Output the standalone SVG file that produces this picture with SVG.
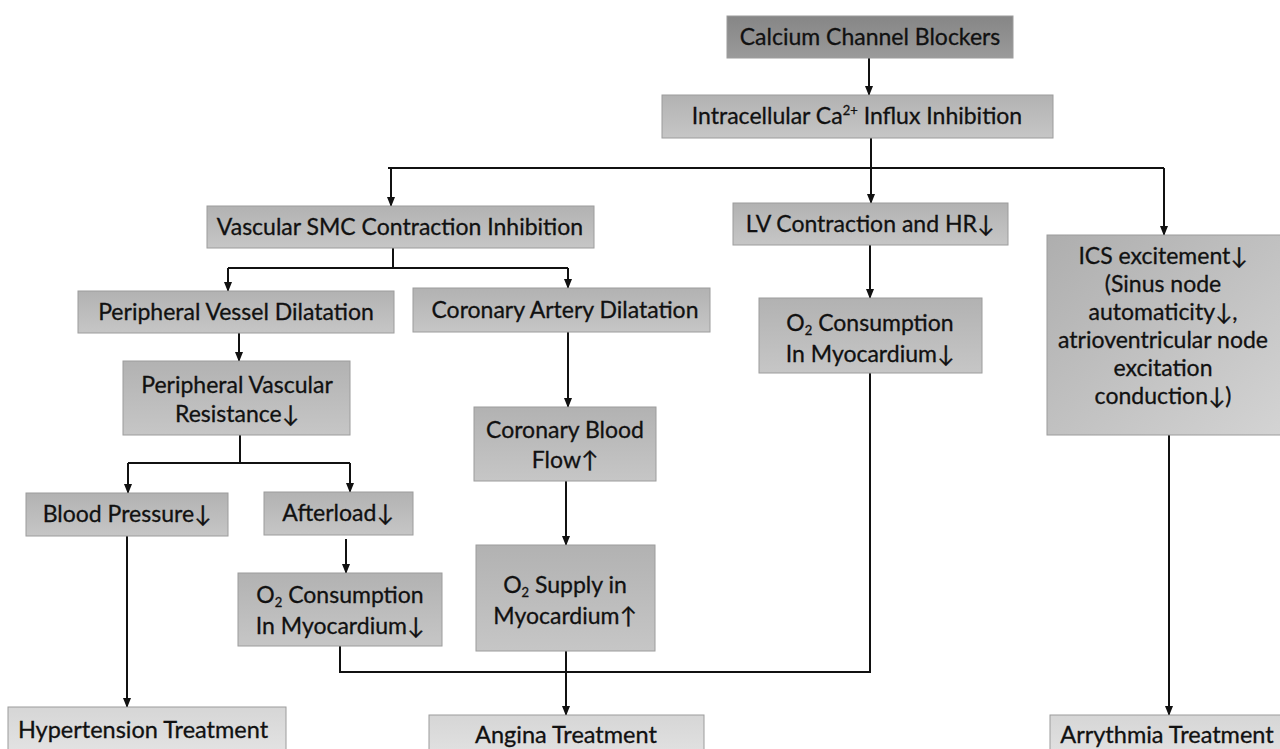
<svg xmlns="http://www.w3.org/2000/svg" width="1280" height="749" viewBox="0 0 1280 749">
<defs>
<linearGradient id="gMid" x1="0" y1="0" x2="0" y2="1"><stop offset="0" stop-color="#b2b2b2"/><stop offset="1" stop-color="#c6c6c6"/></linearGradient>
<linearGradient id="gTop" x1="0" y1="0" x2="0" y2="1"><stop offset="0" stop-color="#868686"/><stop offset="1" stop-color="#9a9a9a"/></linearGradient>
<linearGradient id="gLight" x1="0" y1="0" x2="0" y2="1"><stop offset="0" stop-color="#d6d6d6"/><stop offset="1" stop-color="#e4e4e4"/></linearGradient>
<linearGradient id="gIcs" x1="0" y1="0" x2="1" y2="1"><stop offset="0" stop-color="#aeaeae"/><stop offset="1" stop-color="#d4d4d4"/></linearGradient>
<marker id="ah" markerWidth="10" markerHeight="10" refX="9" refY="5" orient="auto" markerUnits="userSpaceOnUse"><path d="M0,1 L10,5 L0,9 Z" fill="#111"/></marker>
</defs>
<style>
.box{stroke:#9c9c9c;stroke-width:1}
.t{font-family:Lato,"Open Sans","Liberation Sans",sans-serif;font-size:23px;fill:#111;stroke:#111;stroke-width:0.3;text-anchor:middle}
.s{font-size:13px}
.b{font-size:23.5px}
.c{fill:none;stroke:#111;stroke-width:2}
.a{fill:none;stroke:#111;stroke-width:2;marker-end:url(#ah)}
</style>
<rect width="1280" height="749" fill="#fff"/>
<g id="connectors">
<path class="a" d="M869,58 V95"/>
<path class="c" d="M871,138 V168 M388,168 H1164"/>
<path class="a" d="M391,168 V206"/>
<path class="a" d="M871,168 V203"/>
<path class="a" d="M1164,168 V235"/>
<path class="c" d="M393,248 V268 M228,268 H568"/>
<path class="a" d="M228,268 V291"/>
<path class="a" d="M568,268 V288"/>
<path class="a" d="M239,333 V361"/>
<path class="c" d="M240,435 V463 M128,463 H350"/>
<path class="a" d="M128,463 V493"/>
<path class="a" d="M350,463 V492"/>
<path class="a" d="M346,539 V573"/>
<path class="a" d="M568,332 V407"/>
<path class="a" d="M566,481 V545"/>
<path class="a" d="M870,245 V298"/>
<path class="c" d="M340,646 V672 H870 V373"/>
<path class="a" d="M566,651 V715"/>
<path class="a" d="M127,536 V707"/>
<path class="a" d="M1169,435 V715"/>
</g>
<g id="ccb"><rect class="box" x="727" y="16" width="286" height="42" fill="url(#gTop)"/><text class="t" x="870" y="45">Calcium Channel Blockers</text></g>
<g id="influx"><rect class="box" x="662" y="95" width="391" height="43" fill="url(#gMid)"/><text class="t" x="857" y="124">Intracellular Ca<tspan class="s" dy="-9">2+</tspan><tspan dy="9"> Influx Inhibition</tspan></text></g>
<g id="vsmc"><rect class="box" x="207" y="206" width="387" height="42" fill="url(#gMid)"/><text class="t" x="400" y="235">Vascular SMC Contraction Inhibition</text></g>
<g id="lv"><rect class="box" x="733" y="203" width="275" height="42" fill="url(#gMid)"/><text class="t" x="870" y="232">LV Contraction and HR↓</text></g>
<g id="ics"><rect class="box" x="1047" y="235" width="240" height="200" fill="url(#gIcs)"/>
<text class="t" x="1163"><tspan x="1163" y="264">ICS excitement↓</tspan><tspan x="1163" y="292">(Sinus node</tspan><tspan x="1163" y="320">automaticity↓,</tspan><tspan x="1163" y="348">atrioventricular node</tspan><tspan x="1163" y="376">excitation</tspan><tspan x="1163" y="404">conduction↓)</tspan></text></g>
<g id="pvd"><rect class="box" x="78" y="291" width="316" height="42" fill="url(#gMid)"/><text class="t" x="236" y="320">Peripheral Vessel Dilatation</text></g>
<g id="cad"><rect class="box" x="413" y="288" width="297" height="44" fill="url(#gMid)"/><text class="t" x="565" y="318">Coronary Artery Dilatation</text></g>
<g id="o2r"><rect class="box" x="759" y="298" width="223" height="75" fill="url(#gMid)"/><text class="t"><tspan x="870" y="331">O<tspan class="s" dy="4">2</tspan><tspan dy="-4"> Consumption</tspan></tspan><tspan x="870" y="362">In Myocardium↓</tspan></text></g>
<g id="pvr"><rect class="box" x="123" y="361" width="227" height="74" fill="url(#gMid)"/><text class="t"><tspan x="237" y="393">Peripheral Vascular</tspan><tspan x="237" y="422">Resistance↓</tspan></text></g>
<g id="cbf"><rect class="box" x="474" y="407" width="182" height="74" fill="url(#gMid)"/><text class="t"><tspan x="565" y="438">Coronary Blood</tspan><tspan x="565" y="468">Flow↑</tspan></text></g>
<g id="bp"><rect class="box" x="26" y="493" width="202" height="43" fill="url(#gMid)"/><text class="t" x="127" y="522">Blood Pressure↓</text></g>
<g id="afterload"><rect class="box" x="264" y="492" width="149" height="43" fill="url(#gMid)"/><text class="t" x="338" y="521">Afterload↓</text></g>
<g id="o2s"><rect class="box" x="476" y="545" width="179" height="106" fill="url(#gMid)"/><text class="t"><tspan x="565" y="593">O<tspan class="s" dy="4">2</tspan><tspan dy="-4"> Supply in</tspan></tspan><tspan x="565" y="624">Myocardium↑</tspan></text></g>
<g id="o2l"><rect class="box" x="238" y="573" width="204" height="73" fill="url(#gMid)"/><text class="t"><tspan x="340" y="603">O<tspan class="s" dy="4">2</tspan><tspan dy="-4"> Consumption</tspan></tspan><tspan x="340" y="634">In Myocardium↓</tspan></text></g>
<g id="htn"><rect class="box" x="8" y="707" width="278" height="50" fill="url(#gLight)"/><text class="t b" x="143" y="738">Hypertension Treatment</text></g>
<g id="angina"><rect class="box" x="429" y="715" width="275" height="50" fill="url(#gLight)"/><text class="t b" x="566" y="743">Angina Treatment</text></g>
<g id="arr"><rect class="box" x="1050" y="715" width="240" height="50" fill="url(#gLight)"/><text class="t b" x="1167" y="743">Arrythmia Treatment</text></g>
</svg>
